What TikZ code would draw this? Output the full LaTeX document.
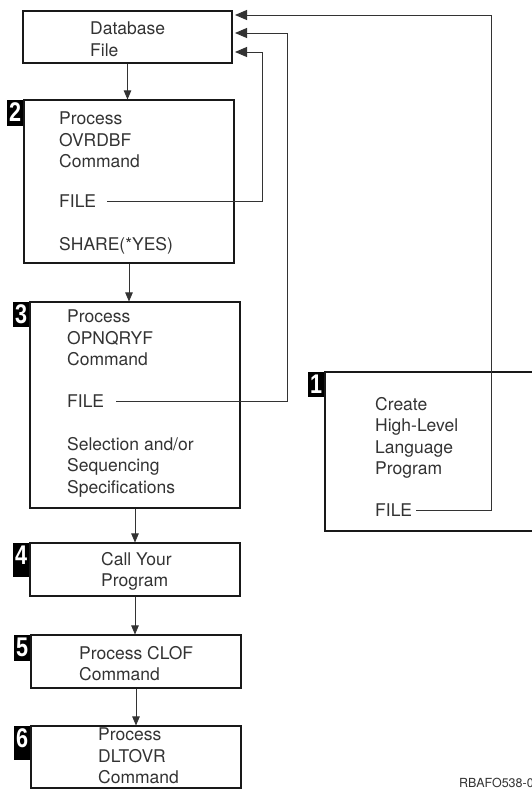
\documentclass[tikz,border=0pt]{standalone}
\usepackage{fontspec}
\setmainfont{TeX Gyre Heros}
\newfontfamily\badgefont[FakeStretch=0.8]{Liberation Sans}
\usetikzlibrary{arrows.meta}
\tikzset{
  box/.style={draw=black!90, line width=1.1pt, rectangle, inner sep=0pt},
  txt/.style={anchor=north west, inner sep=0pt, align=left, text=black!80,
    font=\fontsize{17.5pt}{21.5pt}\selectfont},
  badge/.style={fill=black, text=white, anchor=north east, inner xsep=0pt, inner ysep=0pt,
    minimum width=16pt, text height=22pt,
    font=\badgefont\bfseries\fontsize{27pt}{27pt}\selectfont},
  conn/.style={draw=black!80, line width=0.9pt},
  arr/.style={conn, -{Triangle[length=9pt,width=7.5pt]}},
  barr/.style={conn, -{Triangle[length=12pt,width=10pt]}},
}
\begin{document}
\begin{tikzpicture}[x=1pt,y=-1pt]
\useasboundingbox (0,0) rectangle (532,789);
\clip (0,0) rectangle (532,789);
\fill[white] (0,0) rectangle (532,789);

% boxes
\node[box, minimum width=209pt, minimum height=52pt] (db) at (127.5,37) {};
\node[box, minimum width=210pt, minimum height=163pt] (b2) at (129,181.5) {};
\node[box, minimum width=210pt, minimum height=206pt] (b3) at (135,405) {};
\node[box, minimum width=210pt, minimum height=53pt] (b4) at (135,569.5) {};
\node[box, minimum width=210pt, minimum height=53pt] (b5) at (136,661.5) {};
\node[box, minimum width=210pt, minimum height=62pt] (b6) at (136,757) {};
\node[box, minimum width=250pt, minimum height=159pt] (b1) at (450,451.5) {};

% badges
\node[badge, text depth=4pt] (n2) at (b2.north west) {2};
\node[badge, text depth=3pt] (n3) at (b3.north west) {3};
\node[badge, text depth=12pt] (n4) at (b4.north west) {4};
\node[badge, text depth=4pt] (n5) at (b5.north west) {5};
\node[badge, text depth=12pt] (n6) at (b6.north west) {6};
\node[badge, text depth=3pt] (n1) at (b1.north west) {1};

% texts
\node[txt] (tdb) at (90,22) {Database\\File};
\node[txt] (t2a) at (59,112) {Process\\OVRDBF\\Command};
\node[txt] (f2) at (59,195) {FILE};
\node[txt] (t2b) at (59,237) {SHARE(*YES)};
\node[txt] (t3a) at (67,310) {Process\\OPNQRYF\\Command};
\node[txt] (f3) at (67,395) {FILE};
\node[txt] (t3b) at (67,437) {Selection and/or\\Sequencing\\Specifications};
\node[txt] (t4) at (101,552) {Call Your\\Program};
\node[txt] (t5) at (79,646) {Process CLOF\\Command};
\node[txt] (t6) at (98,728) {Process\\DLTOVR\\Command};
\node[txt] (t1a) at (375,397) {Create\\High-Level\\Language\\Program};
\node[txt] (f1) at (375,504) {FILE};
\node[txt, font=\fontsize{12.5pt}{14pt}\selectfont] (lbl) at (459,778) {RBAFO538-0};

% flow arrows
\draw[arr] (db.south) -- (db.south |- b2.north);
\draw[arr] (b2.south) -- (b2.south |- b3.north);
\draw[arr] (b3.south) -- (b4.north);
\draw[arr] (b4.south) -- (b4.south |- b5.north);
\draw[arr] (b5.south) -- (b6.north);

% FILE connectors
\coordinate (in1) at (235,15);
\coordinate (in2) at (235,33);
\coordinate (in3) at (235,52);
\coordinate (c1) at (491,15);
\coordinate (c2) at (287,33);
\coordinate (c3) at (262,52);
\draw[barr] ([xshift=11pt]f2.east) -| (c3) -- (in3);
\draw[barr] ([xshift=12pt]f3.east) -| (c2) -- (in2);
\draw[barr] ([xshift=4pt]f1.east) -| (c1) -- (in1);
\end{tikzpicture}
\end{document}
